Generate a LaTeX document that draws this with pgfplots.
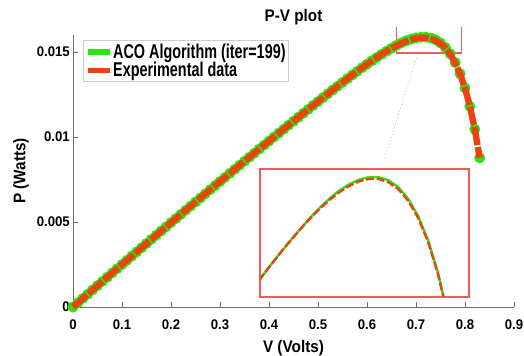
\documentclass[border=0pt]{standalone}
\usepackage{fontspec}
\usepackage{pgfplots}
\pgfplotsset{compat=1.18}
\usepackage{pgfplotstable}
\usetikzlibrary{calc}
\setmainfont{Liberation Sans}
\newfontfamily\tickfont{Liberation Sans Bold}[FakeStretch=0.94]
\newfontfamily\labfont{Liberation Sans Bold}[FakeStretch=0.91]
\newfontfamily\legfont{Liberation Sans Bold}[FakeStretch=0.72]
\definecolor{acogreen}{RGB}{40,230,20}
\definecolor{expred}{RGB}{236,66,16}
\definecolor{boxred}{RGB}{240,90,90}
\definecolor{axgray}{RGB}{110,110,110}

\pgfplotstableread{
V Pexp Paco
0.00 0.0000000 0.0000000
0.01 0.0002518 0.0002518
0.02 0.0005032 0.0005032
0.03 0.0007542 0.0007542
0.04 0.0010048 0.0010048
0.05 0.0012550 0.0012550
0.06 0.0015048 0.0015048
0.07 0.0017542 0.0017542
0.08 0.0020032 0.0020032
0.09 0.0022518 0.0022518
0.10 0.0025000 0.0025000
0.11 0.0027478 0.0027478
0.12 0.0029952 0.0029952
0.13 0.0032422 0.0032422
0.14 0.0034888 0.0034888
0.15 0.0037350 0.0037350
0.16 0.0039808 0.0039808
0.17 0.0042262 0.0042262
0.18 0.0044712 0.0044712
0.19 0.0047158 0.0047158
0.20 0.0049600 0.0049600
0.21 0.0052038 0.0052038
0.22 0.0054472 0.0054472
0.23 0.0056902 0.0056902
0.24 0.0059328 0.0059328
0.25 0.0061750 0.0061750
0.26 0.0064168 0.0064168
0.27 0.0066582 0.0066582
0.28 0.0068992 0.0068992
0.29 0.0071398 0.0071398
0.30 0.0073800 0.0073800
0.31 0.0076198 0.0076198
0.32 0.0078592 0.0078592
0.33 0.0080982 0.0080982
0.34 0.0083368 0.0083368
0.35 0.0085750 0.0085750
0.36 0.0088128 0.0088128
0.37 0.0090502 0.0090502
0.38 0.0092872 0.0092872
0.39 0.0095238 0.0095238
0.40 0.0097580 0.0097580
0.41 0.0099932 0.0099932
0.42 0.0102280 0.0102280
0.43 0.0104623 0.0104623
0.44 0.0106960 0.0106960
0.45 0.0109292 0.0109292
0.46 0.0111617 0.0111617
0.47 0.0113934 0.0113934
0.48 0.0116245 0.0116245
0.49 0.0118547 0.0118547
0.50 0.0120839 0.0120839
0.51 0.0123121 0.0123121
0.52 0.0125392 0.0125392
0.53 0.0127648 0.0127648
0.54 0.0129888 0.0129888
0.55 0.0132111 0.0132111
0.56 0.0134312 0.0134312
0.57 0.0136488 0.0136488
0.58 0.0138633 0.0138633
0.59 0.0140743 0.0140743
0.60 0.0142812 0.0142812
0.61 0.0144830 0.0144830
0.62 0.0146786 0.0146786
0.63 0.0148670 0.0148670
0.64 0.0150465 0.0150465
0.65 0.0152154 0.0152254
0.66 0.0153720 0.0153870
0.67 0.0155125 0.0155325
0.68 0.0156346 0.0156596
0.69 0.0157338 0.0157588
0.70 0.0158060 0.0158310
0.71 0.0158449 0.0158729
0.72 0.0158432 0.0158732
0.73 0.0157938 0.0158238
0.74 0.0156849 0.0157149
0.75 0.0155040 0.0155340
0.76 0.0152358 0.0152658
0.77 0.0148652 0.0148902
0.78 0.0143637 0.0143837
0.79 0.0137098 0.0137248
0.80 0.0128690 0.0128790
0.81 0.0117998 0.0117998
0.82 0.0104542 0.0104542
0.83 0.0087772 0.0087772
}\pvdata

\begin{document}
\begin{tikzpicture}
\begin{axis}[
  name=main,
  set layers,
  scale only axis, width=330.75pt, height=204pt,
  xmin=0, xmax=0.9, ymin=0, ymax=0.016,
  clip=false,
  axis lines*=left,
  axis line style={axgray, line width=0.6pt},
  tick align=inside, major tick length=3.5pt,
  tick style={axgray, line width=0.6pt},
  xtick={0,0.1,0.2,0.3,0.4,0.5,0.6,0.7,0.8,0.9},
  ytick={0,0.005,0.01,0.015},
  scaled x ticks=false, scaled y ticks=false,
  /pgf/number format/assume math mode=true,
  xticklabel style={/pgf/number format/fixed, /pgf/number format/precision=1,
    font=\tickfont\fontsize{10.5pt}{12pt}\selectfont, inner sep=0pt, yshift=-9pt},
  yticklabel style={/pgf/number format/fixed, /pgf/number format/precision=3,
    font=\tickfont\fontsize{10.5pt}{12pt}\selectfont, inner sep=0pt, xshift=-2.25pt},
  title={P-V plot},
  title style={at={(axis description cs:0.5,1)}, anchor=base, inner sep=0pt, yshift=3.75pt,
    font=\labfont\fontsize{12.6pt}{14pt}\selectfont},
  xlabel={V (Volts)},
  xlabel style={at={(axis description cs:0.5,0)}, anchor=north, inner sep=0pt, yshift=-24.75pt,
    font=\labfont\fontsize{12.6pt}{14pt}\selectfont},
  ylabel={P (Watts)},
  every axis y label/.style={at={($(axis description cs:0,0.5)+(-39pt,0pt)$)}, rotate=90, anchor=center, inner sep=0pt,
    font=\labfont\fontsize{12.6pt}{14pt}\selectfont},
  legend style={at={(axis description cs:0.0227,0.9816)}, anchor=north west,
    draw=gray!40, line width=0.6pt, fill=white, inner xsep=1.5pt, inner ysep=2pt,
    nodes={inner sep=0.5pt}, row sep=0.3pt,
    font=\legfont\fontsize{15pt}{17pt}\selectfont},
  legend cell align=left,
  legend image code/.code={\draw[#1] (0pt,0pt) -- (16.5pt,0pt);},
]
\addlegendimage{acogreen, line width=3.8pt}
\addlegendentry{ACO Algorithm (iter=199)}
\addlegendimage{expred, line width=3.8pt}
\addlegendentry{Experimental data}

\addplot[forget plot, only marks, mark=*, mark size=3.9pt, acogreen, mark options={draw=acogreen, fill=acogreen}]
  table[x=V, y=Paco] {\pvdata};
\addplot[forget plot, on layer=axis foreground, expred, line width=4.8pt, dash pattern=on 14pt off 1.4pt, no marks]
  table[x=V, y=Pexp] {\pvdata};

\draw[boxred, line width=0.8pt] (axis cs:0.660,0.01647) -- (axis cs:0.660,0.01494) -- (axis cs:0.793,0.01494) -- (axis cs:0.793,0.01647);
\draw[boxred!60, line width=0.6pt, dotted] (axis cs:0.701,0.01465) -- (axis cs:0.636,0.00876);
\end{axis}

\begin{axis}[
  at={(main.south west)}, anchor=south west, xshift=140.25pt, yshift=7.5pt,
  scale only axis, width=156.75pt, height=96pt,
  xmin=0.60, xmax=0.8115, ymin=0.0140, ymax=0.0160,
  ticks=none,
  axis line style={boxred, line width=0.8pt},
  axis background/.style={fill=white},
]
\addplot[acogreen, line width=1.8pt, no marks] table[x=V, y=Paco] {\pvdata};
\addplot[expred, line width=1.8pt, dash pattern=on 6pt off 2pt, no marks] table[x=V, y=Pexp] {\pvdata};
\end{axis}

\pgfresetboundingbox
\path ($(main.south west)+(-54.75pt,-36.75pt)$) rectangle ($(main.north east)+(7.5pt,26.25pt)$);
\end{tikzpicture}
\end{document}
